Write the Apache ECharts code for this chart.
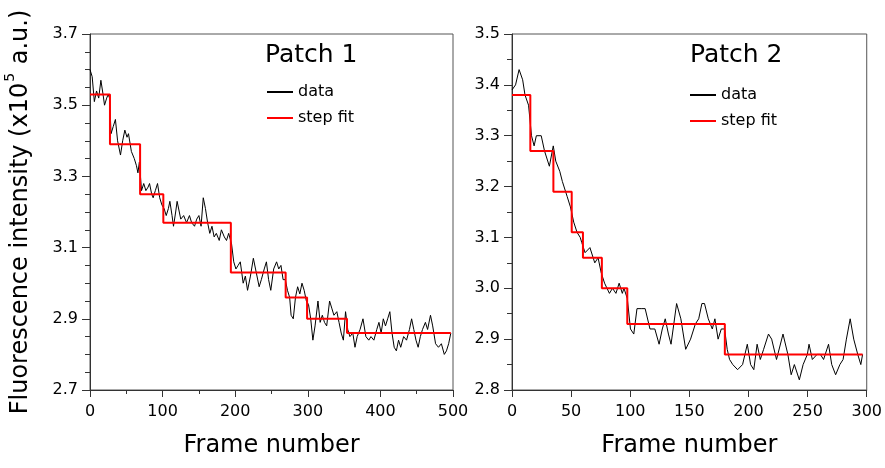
<!DOCTYPE html>
<html lang="en">
<head>
    <meta charset="UTF-8">
    <script type="text/javascript" src="https://cdn.jsdelivr.net/npm/echarts@6/dist/echarts.min.js"></script>
    <title>Patch fluorescence</title>
    <style>
        html, body { margin: 0; padding: 0; background: #fff; }
        #chart { width: 885px; height: 468px; }
    </style>
</head>
<body>
    <div id="chart"></div>
</body>
</html>
<script>
    // Patch 1 trace (frame number, intensity x10^5)
    var patch1Frames = [0, 3, 6, 9, 12, 15, 18, 20, 23, 25, 27, 29, 32, 35, 38, 42, 45, 48, 51, 53,
        57, 61, 64, 66, 68, 71, 74, 77, 80, 82, 85, 87, 90, 93, 96, 99, 102, 105, 108, 110,
        113, 115, 118, 120, 123, 125, 129, 133, 137, 140, 144, 147, 150, 153, 156, 159, 162, 165, 168, 171,
        174, 178, 181, 185, 188, 191, 195, 198, 201, 204, 207, 211, 214, 217, 221, 225, 229, 233, 236, 240,
        243, 246, 249, 253, 257, 260, 263, 266, 269, 272, 275, 277, 280, 283, 286, 289, 292, 295, 298, 301,
        304, 307, 310, 314, 317, 320, 323, 326, 330, 333, 336, 340, 343, 346, 349, 352, 355, 358, 362, 365,
        368, 372, 376, 380, 384, 387, 391, 395, 398, 401, 404, 407, 410, 413, 416, 419, 422, 425, 428, 432,
        436, 440, 443, 446, 449, 452, 455, 458, 462, 465, 469, 472, 476, 480, 484, 488, 491, 494, 497];
    var patch1Values = [3.60, 3.58, 3.51, 3.54, 3.52, 3.57, 3.53, 3.50, 3.52, 3.53, 3.52, 3.42, 3.44, 3.46, 3.40, 3.36, 3.40, 3.43, 3.41, 3.42,
        3.37, 3.35, 3.33, 3.31, 3.34, 3.26, 3.28, 3.26, 3.27, 3.28, 3.25, 3.24, 3.26, 3.28, 3.24, 3.22, 3.21, 3.19, 3.21, 3.23,
        3.19, 3.16, 3.20, 3.23, 3.20, 3.18, 3.19, 3.17, 3.19, 3.17, 3.16, 3.18, 3.19, 3.16, 3.24, 3.21, 3.17, 3.14, 3.16, 3.13,
        3.14, 3.12, 3.15, 3.13, 3.12, 3.14, 3.11, 3.06, 3.04, 3.05, 3.06, 3.00, 3.02, 2.98, 3.02, 3.07, 3.03, 2.99, 3.01, 3.04,
        3.06, 3.01, 2.98, 3.04, 3.06, 3.04, 3.05, 3.01, 3.01, 2.98, 2.96, 2.91, 2.90, 2.96, 2.99, 2.97, 3.00, 2.98, 2.95, 2.94,
        2.90, 2.84, 2.88, 2.95, 2.89, 2.91, 2.89, 2.88, 2.95, 2.93, 2.91, 2.92, 2.89, 2.86, 2.84, 2.92, 2.87, 2.85, 2.86, 2.82,
        2.85, 2.87, 2.90, 2.85, 2.84, 2.85, 2.84, 2.87, 2.89, 2.86, 2.90, 2.88, 2.90, 2.92, 2.86, 2.82, 2.81, 2.84, 2.82, 2.85,
        2.84, 2.87, 2.90, 2.87, 2.84, 2.82, 2.85, 2.87, 2.89, 2.87, 2.91, 2.88, 2.83, 2.82, 2.83, 2.80, 2.81, 2.83, 2.86];
    var patch1StepEdges = [0, 27.5, 69, 101, 194, 269.5, 299, 354, 497];
    var patch1StepLevels = [3.53, 3.39, 3.25, 3.17, 3.03, 2.96, 2.90, 2.86];

    // Patch 2 trace
    var patch2Frames = [0, 3, 6, 9, 11, 14, 16.5, 18.7, 20.6, 24.7, 27.5, 31.6, 34.9, 37, 40.4, 42.6, 46.7, 49.4, 52.2, 55,
        57.7, 59, 61.8, 65.9, 70, 72.8, 75.5, 78.3, 82.4, 85, 87.9, 90.6, 93.3, 94.7, 97.5, 100.2, 103, 105.7, 109.8, 112.6,
        116.7, 120.8, 124.4, 127.1, 129.6, 132.3, 134.5, 139.2, 142.8, 146.9, 151, 155.1, 157.9, 160.6, 162.8, 166, 169.4, 171.6, 174.3, 177,
        179.8, 182, 184, 186.7, 190.8, 195, 199, 201.8, 204.5, 207.3, 210, 212.8, 216.9, 219.6, 223.7, 229.2, 233.3, 236.1, 238.8, 243,
        246.2, 249.8, 251.2, 254, 258, 260.8, 263.5, 267.7, 270.4, 273.7, 277.3, 280, 282.8, 286, 289, 292.4, 295, 296.5];
    var patch2Values = [3.39, 3.40, 3.43, 3.41, 3.38, 3.36, 3.30, 3.28, 3.30, 3.30, 3.27, 3.24, 3.28, 3.25, 3.23, 3.21, 3.18, 3.16, 3.13, 3.11,
        3.10, 3.09, 3.07, 3.08, 3.05, 3.06, 3.03, 3.01, 2.99, 3.00, 2.99, 3.01, 2.99, 3.00, 2.98, 2.92, 2.91, 2.96, 2.96, 2.96,
        2.92, 2.92, 2.89, 2.92, 2.94, 2.91, 2.89, 2.97, 2.94, 2.88, 2.90, 2.93, 2.94, 2.97, 2.97, 2.94, 2.92, 2.94, 2.90, 2.92,
        2.92, 2.88, 2.86, 2.85, 2.84, 2.85, 2.89, 2.85, 2.84, 2.89, 2.86, 2.88, 2.91, 2.90, 2.86, 2.91, 2.87, 2.83, 2.85, 2.82,
        2.85, 2.87, 2.89, 2.86, 2.87, 2.87, 2.86, 2.89, 2.85, 2.83, 2.85, 2.86, 2.90, 2.94, 2.90, 2.87, 2.85, 2.87];
    var patch2StepEdges = [0, 15.5, 35, 50.5, 60, 76, 97.5, 180, 296.5];
    var patch2StepLevels = [3.38, 3.27, 3.19, 3.11, 3.06, 3.00, 2.93, 2.87];

    var FONT = 'DejaVu Sans';

    function pairs(xs, ys) {
        return xs.map(function (x, i) { return [x, ys[i]]; });
    }
    function stepPoints(edges, levels) {
        var pts = levels.map(function (v, i) { return [edges[i], v]; });
        pts.push([edges[edges.length - 1], levels[levels.length - 1]]);
        return pts;
    }

    function xAxisOf(idx, max, interval, minor) {
        return {
            type: 'value', gridIndex: idx, min: 0, max: max, interval: interval,
            name: 'Frame number', nameLocation: 'middle', nameGap: 44,
            nameTextStyle: { fontFamily: FONT, fontSize: 24, color: '#000' },
            axisLine: { lineStyle: { color: '#333', width: 1 } },
            axisTick: { length: 7, lineStyle: { color: '#333' } },
            minorTick: { show: minor, splitNumber: 2, length: 4, lineStyle: { color: '#333' } },
            axisLabel: { margin: 14, fontFamily: FONT, fontSize: 16, color: '#000' },
            splitLine: { show: false }
        };
    }
    function yAxisOf(idx, min, max, interval, minorSplit, name) {
        return {
            type: 'value', gridIndex: idx, min: min, max: max, interval: interval,
            name: name, nameLocation: 'middle', nameGap: 57,
            nameTextStyle: {
                fontFamily: FONT, fontSize: 24, color: '#000',
                rich: {
                    a: { fontFamily: FONT, fontSize: 24, lineHeight: 30, color: '#000', verticalAlign: 'bottom' },
                    s: { fontFamily: FONT, fontSize: 14, lineHeight: 14, color: '#000', verticalAlign: 'top', padding: [0, 1, 0, 1] }
                }
            },
            axisLine: { lineStyle: { color: '#333', width: 1 } },
            axisTick: { length: 8, lineStyle: { color: '#333' } },
            minorTick: { show: true, splitNumber: minorSplit, length: 5, lineStyle: { color: '#333' } },
            axisLabel: {
                margin: 12, fontFamily: FONT, fontSize: 16, color: '#000',
                formatter: function (v) { return v.toFixed(1); }
            },
            splitLine: { show: false }
        };
    }

    var myChart = echarts.init(document.getElementById('chart'));
    myChart.setOption({
        animation: false,
        backgroundColor: '#fff',
        title: [
            { text: 'Patch 1', left: 265, top: 43, padding: 0, textStyle: { fontFamily: FONT, fontSize: 25, fontWeight: 'normal', color: '#000' } },
            { text: 'Patch 2', left: 690, top: 43, padding: 0, textStyle: { fontFamily: FONT, fontSize: 25, fontWeight: 'normal', color: '#000' } }
        ],
        legend: [
            { orient: 'vertical', left: 267, top: 84, padding: 0, itemGap: 10, itemWidth: 26, itemHeight: 2, icon: 'rect',
              textStyle: { fontFamily: FONT, fontSize: 16, color: '#000' }, data: ['data', 'step fit'] },
            { orient: 'vertical', left: 690, top: 87, padding: 0, itemGap: 10, itemWidth: 26, itemHeight: 2, icon: 'rect',
              textStyle: { fontFamily: FONT, fontSize: 16, color: '#000' }, data: ['data', 'step fit'] }
        ],
        grid: [
            { left: 90, top: 34, width: 363, height: 356, show: true, borderColor: '#555', borderWidth: 1 },
            { left: 512, top: 34, width: 364, height: 356, show: true, borderColor: '#555', borderWidth: 1 }
        ],
        xAxis: [
            xAxisOf(0, 500, 100, true),
            xAxisOf(1, 300, 50, false)
        ],
        yAxis: [
            yAxisOf(0, 2.7, 3.7, 0.2, 4, '{a|Fluorescence intensity (x10}{s|5}{a| a.u.)}'),
            yAxisOf(1, 2.8, 3.5, 0.1, 2, '')
        ],
        series: [
            { name: 'data', type: 'line', xAxisIndex: 0, yAxisIndex: 0, symbol: 'none', color: '#000',
              lineStyle: { color: '#000', width: 1 }, data: pairs(patch1Frames, patch1Values) },
            { name: 'step fit', type: 'line', xAxisIndex: 0, yAxisIndex: 0, symbol: 'none', step: 'end', color: '#ff0000',
              lineStyle: { color: '#ff0000', width: 2 }, data: stepPoints(patch1StepEdges, patch1StepLevels) },
            { name: 'data', type: 'line', xAxisIndex: 1, yAxisIndex: 1, symbol: 'none', color: '#000',
              lineStyle: { color: '#000', width: 1 }, data: pairs(patch2Frames, patch2Values) },
            { name: 'step fit', type: 'line', xAxisIndex: 1, yAxisIndex: 1, symbol: 'none', step: 'end', color: '#ff0000',
              lineStyle: { color: '#ff0000', width: 2 }, data: stepPoints(patch2StepEdges, patch2StepLevels) }
        ]
    });
</script>
